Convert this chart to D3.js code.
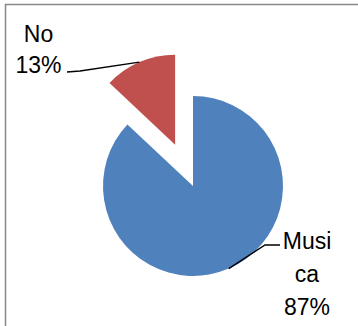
<!DOCTYPE html>
<html>
<head>
<meta charset="utf-8">
<script src="https://cdn.jsdelivr.net/npm/d3@7"></script>
<style>
  html, body { margin: 0; padding: 0; background: #fff; }
  svg { display: block; }
</style>
</head>
<body>
<svg id="chart" width="358" height="326"></svg>
<script>
// Survey answers
const categories = ["Musica", "No"];
const values = [87, 13];
const percentLabels = ["87%", "13%"];
const colors = ["#4F81BD", "#C0504D"];

const svg = d3.select("#chart");

// Chart area frame (runs off the right and bottom edges)
svg.append("rect")
  .attr("x", 5.5).attr("y", 4.5)
  .attr("width", 420).attr("height", 420)
  .attr("fill", "#fff")
  .attr("stroke", "#878787")
  .attr("stroke-width", 1.5);

const cx = 193, cy = 186, radius = 90;
const explode = [0, 45];

const pie = d3.pie().sort(null).startAngle(0).endAngle(2 * Math.PI);
const arcs = pie(values);
const arcGen = d3.arc().innerRadius(0).outerRadius(radius);

const g = svg.append("g").attr("transform", `translate(${cx},${cy})`);

const midAngle = d => (d.startAngle + d.endAngle) / 2;
function offset(d, i) {
  const m = midAngle(d);
  return [Math.sin(m) * explode[i], -Math.cos(m) * explode[i]];
}

g.selectAll("path.slice")
  .data(arcs)
  .join("path")
  .attr("class", "slice")
  .attr("d", arcGen)
  .attr("fill", (d, i) => colors[i])
  .attr("transform", (d, i) => {
    const [dx, dy] = offset(d, i);
    return `translate(${dx},${dy})`;
  });

// Label placement: anchor centre, first baseline, line step, leader start and bend
const labelLayout = [
  { x: 307, y: 249, step: 33, start: [280, 245], bend: [265, 245] },
  { x: 38.5, y: 42, step: 31, start: [67, 72], bend: [80, 71] }
];

const fontSize = 23;
const fontFamily = "'Liberation Sans', Arial, sans-serif";
const maxLineWidth = 55;

// Break a label into lines that fit the label width, character by character
const ctx = document.createElement("canvas").getContext("2d");
ctx.font = `${fontSize}px ${fontFamily}`;
function wrap(text) {
  const lines = [];
  let cur = "";
  for (const ch of text) {
    if (cur && ctx.measureText(cur + ch).width > maxLineWidth) {
      lines.push(cur);
      cur = ch;
    } else {
      cur += ch;
    }
  }
  if (cur) lines.push(cur);
  return lines;
}

arcs.forEach((d, i) => {
  const L = labelLayout[i];
  const lines = wrap(categories[i]).concat([percentLabels[i]]);
  const t = svg.append("text")
    .attr("text-anchor", "middle")
    .attr("font-family", fontFamily)
    .attr("font-size", fontSize)
    .attr("fill", "#000");
  lines.forEach((ln, k) => {
    t.append("tspan").attr("x", L.x).attr("y", L.y + k * L.step).text(ln);
  });

  // Leader line ends on the slice's outer edge at its mid angle
  const [dx, dy] = offset(d, i);
  const m = midAngle(d);
  const ex = cx + dx + Math.sin(m) * radius;
  const ey = cy + dy - Math.cos(m) * radius;
  svg.append("path")
    .attr("d", d3.line()([L.start, L.bend, [ex, ey]]))
    .attr("fill", "none")
    .attr("stroke", "#000")
    .attr("stroke-width", 1.4);
});
</script>
</body>
</html>
